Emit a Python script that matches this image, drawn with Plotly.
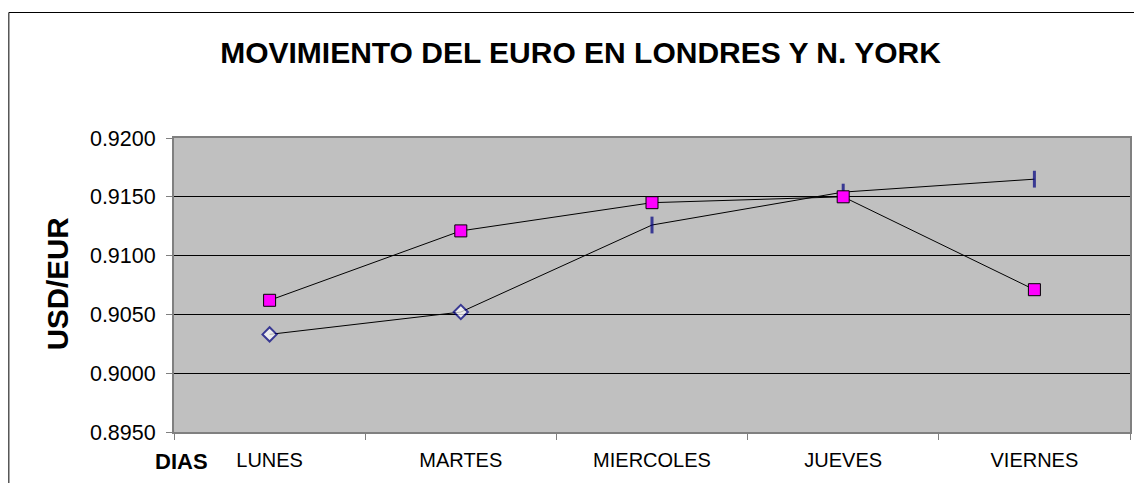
import plotly.graph_objects as go

dias = ["LUNES", "MARTES", "MIERCOLES", "JUEVES", "VIERNES"]
londres = [0.9062, 0.9121, 0.9145, 0.9150, 0.9071]
nueva_york = [0.9033, 0.9052, 0.9126, 0.9154, 0.9165]
y_ticks = [0.8950, 0.9000, 0.9050, 0.9100, 0.9150, 0.9200]

FONT = "Liberation Sans, Arial, sans-serif"
OFF = 8  # page body margin
W, H = 1142 - OFF, 483 - OFF
L, R, T, B = 174 - OFF, 1132 - OFF, 138 - OFF, 432 - OFF

fig = go.Figure()
fig.add_trace(go.Scatter(
    x=dias, y=nueva_york, name="N. YORK", mode="lines+markers",
    line=dict(color="black", width=1),
    marker=dict(symbol=["diamond", "diamond", "line-ns", "line-ns", "line-ns"],
                size=[11, 11, 12, 12, 12], color="white",
                line=dict(color="#000080", width=[2, 2, 3, 3, 3])),
))
fig.add_trace(go.Scatter(
    x=dias, y=londres, name="LONDRES", mode="lines+markers",
    line=dict(color="black", width=1),
    marker=dict(symbol="square", size=12, color="#FF00FF",
                line=dict(color="black", width=1)),
))

fig.update_layout(
    width=W, height=H,
    margin=dict(l=L, r=W - R, t=T, b=H - B, pad=0),
    paper_bgcolor="white", plot_bgcolor="#C0C0C0",
    showlegend=False,
    font=dict(family=FONT, color="black", size=20),
    title=dict(text="<b>MOVIMIENTO DEL EURO EN LONDRES Y N. YORK</b>",
               font=dict(size=30, family=FONT, color="black"),
               xref="container", yref="container",
               x=(580.5 - OFF) / W, xanchor="center", y=1 - (52 - OFF) / H, yanchor="middle"),
    xaxis=dict(type="category", range=[-0.5, 4.5], tickson="boundaries",
               ticks="outside", ticklen=6, tickcolor="#808080", tickwidth=1,
               showgrid=False, showline=True, linecolor="#808080", linewidth=2,
               mirror=True, tickfont=dict(size=20, family=FONT, color="black"),
               ticklabelstandoff=9, zeroline=False),
    yaxis=dict(range=[0.895, 0.920], tickvals=y_ticks, tickformat=".4f",
               ticks="outside", ticklen=6, tickcolor="#808080", tickwidth=1,
               showgrid=True, gridcolor="black", gridwidth=1,
               showline=True, linecolor="#808080", linewidth=2, mirror=True,
               tickfont=dict(size=21.5, family=FONT, color="black"),
               ticklabelstandoff=6, zeroline=False),
    annotations=[
        dict(text="<b>USD/EUR</b>", textangle=-90, xref="paper", yref="paper",
             x=(57 - OFF - L) / (R - L), y=(B - (284 - OFF)) / (B - T),
             xanchor="center", yanchor="middle",
             showarrow=False, font=dict(size=29.5, family=FONT, color="black")),
        dict(text="<b>DIAS</b>", xref="paper", yref="paper",
             x=(182 - OFF - L) / (R - L), y=(B - (461 - OFF)) / (B - T),
             xanchor="center", yanchor="middle",
             showarrow=False, font=dict(size=22, family=FONT, color="black")),
    ],
    shapes=[
        dict(type="rect", xref="paper", yref="paper", layer="below",
             x0=(8.5 - OFF - L) / (R - L), x1=(W + 5 - L) / (R - L),
             y0=(B - (H + 5)) / (B - T), y1=(B - (12.5 - OFF)) / (B - T),
             line=dict(color="black", width=1), fillcolor="rgba(0,0,0,0)"),
    ],
)

fig.write_html("out.html")
